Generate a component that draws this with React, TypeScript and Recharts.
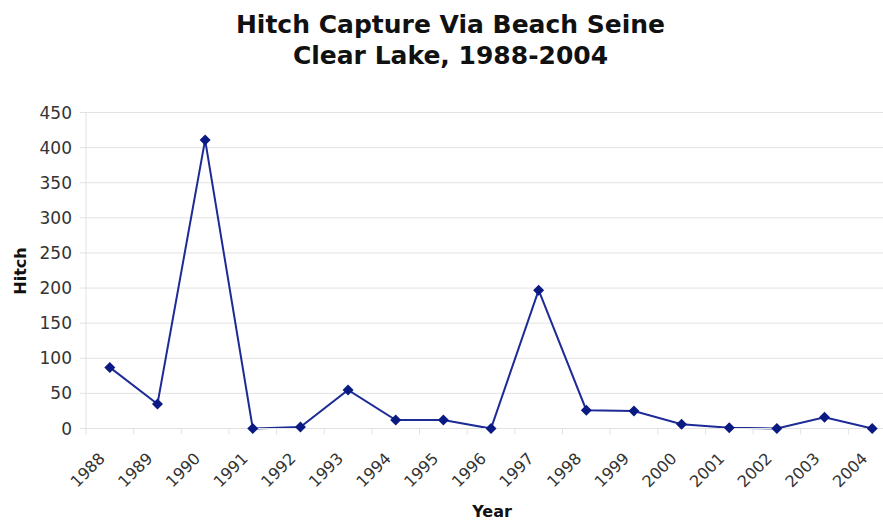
import React from "react";
import {
  CartesianGrid,
  Line,
  LineChart,
  XAxis,
  YAxis,
} from "recharts";

const YEARS = [
  1988, 1989, 1990, 1991, 1992, 1993, 1994, 1995, 1996, 1997, 1998, 1999, 2000,
  2001, 2002, 2003, 2004,
];
const HITCH = [87, 35, 411, 0, 2, 55, 12, 12, 0, 197, 26, 25, 6, 1, 0, 16, 0];
const Y_TICKS = [0, 50, 100, 150, 200, 250, 300, 350, 400, 450];

const TITLE_LINES = ["Hitch Capture Via Beach Seine", "Clear Lake, 1988-2004"];

const data = YEARS.map((year, i) => ({ year, hitch: HITCH[i] }));

// tick marks sit on the boundaries between years, labels belong to the year after them
const boundaryTicks = [...YEARS.map((y) => y - 0.5), YEARS[YEARS.length - 1] + 0.5];

const FONT = "'DejaVu Sans', Verdana, sans-serif";
const GRID = "#e2e2e2";
const NAVY = "#1c2b96";

const YearTick = (props: any) => {
  const { x, y, payload } = props;
  const year = payload.value + 0.5;
  if (year > YEARS[YEARS.length - 1]) return <g />;
  return (
    <text
      x={x + 20}
      y={y + 25}
      textAnchor="end"
      fontSize={16}
      fontFamily={FONT}
      fill="#333"
      transform={`rotate(-45 ${x + 20} ${y + 25})`}
    >
      {year}
    </text>
  );
};

const Diamond = (props: any) => {
  const { cx, cy, index } = props;
  if (cx == null || cy == null) return <g key={index} />;
  const r = 5.5;
  return (
    <polygon
      key={index}
      points={`${cx},${cy - r} ${cx + r},${cy} ${cx},${cy + r} ${cx - r},${cy}`}
      fill="#0a1a82"
    />
  );
};

export default function App() {
  return (
    <div
      style={{
        position: "absolute",
        left: 0,
        top: 0,
        width: 883,
        height: 521,
        overflow: "hidden",
        background: "#fff",
        fontFamily: FONT,
      }}
    >
      <div
        style={{
          position: "absolute",
          left: 0,
          top: 9,
          width: 901,
          textAlign: "center",
          fontWeight: "bold",
          fontSize: 25,
          lineHeight: "31px",
          color: "#111",
        }}
      >
        {TITLE_LINES.map((t) => (
          <div key={t}>{t}</div>
        ))}
      </div>
      <div
        style={{
          position: "absolute",
          left: 20,
          top: 271,
          transform: "translate(-50%, -50%) rotate(-90deg)",
          fontWeight: "bold",
          fontSize: 16,
          color: "#111",
          whiteSpace: "nowrap",
        }}
      >
        Hitch
      </div>
      <div
        style={{
          position: "absolute",
          left: 492,
          top: 511,
          transform: "translate(-50%, -50%)",
          fontWeight: "bold",
          fontSize: 16,
          color: "#111",
        }}
      >
        Year
      </div>
      <LineChart
        width={900}
        height={521}
        data={data}
        margin={{ top: 112.5, right: 4, left: 0, bottom: 32.5 }}
      >
        <CartesianGrid horizontal vertical={false} stroke={GRID} />
        <XAxis
          dataKey="year"
          type="number"
          domain={[YEARS[0] - 0.5, YEARS[YEARS.length - 1] + 0.5]}
          ticks={boundaryTicks}
          interval={0}
          height={60}
          tickSize={6}
          tickMargin={0}
          axisLine={{ stroke: GRID }}
          tickLine={{ stroke: GRID }}
          tick={<YearTick />}
        />
        <YAxis
          domain={[0, 450]}
          ticks={Y_TICKS}
          interval={0}
          width={86}
          tickSize={6}
          tickMargin={8}
          axisLine={{ stroke: GRID }}
          tickLine={{ stroke: GRID }}
          tick={{ fontSize: 17, fontFamily: FONT, fill: "#333" }}
        />
        <Line
          type="linear"
          dataKey="hitch"
          stroke={NAVY}
          strokeWidth={2}
          dot={<Diamond />}
          activeDot={false}
          isAnimationActive={false}
        />
      </LineChart>
    </div>
  );
}
